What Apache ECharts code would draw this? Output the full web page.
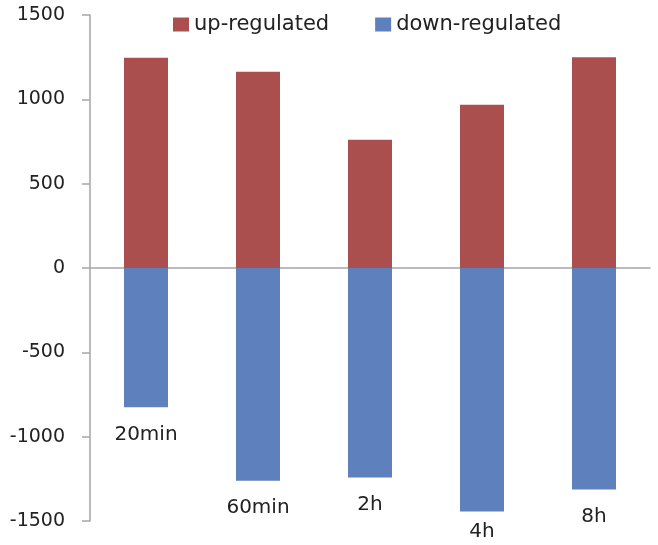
<!DOCTYPE html>
<html>
<head>
<meta charset="utf-8">
<script src="https://cdn.jsdelivr.net/npm/echarts@6/dist/echarts.min.js"></script>
<style>
html,body{margin:0;padding:0;background:#fff;}
#c{width:658px;height:545px;}
</style>
</head>
<body>
<div id="c"></div>
<script>
var categories = ['20min', '60min', '2h', '4h', '8h'];
var upRegulated = [1246, 1163, 760, 968, 1250];
var downRegulated = [-826, -1262, -1242, -1444, -1313];
var yTicks = [-1500, -1000, -500, 0, 500, 1000, 1500];

var FONT = 'DejaVu Sans';
var labelDist = [17, 17, 17, 10, 17];

var chart = echarts.init(document.getElementById('c'));
chart.setOption({
  animation: false,
  backgroundColor: '#ffffff',
  textStyle: { fontFamily: FONT },
  legend: {
    left: 168,
    top: 9,
    itemWidth: 16,
    itemHeight: 14,
    itemGap: 46,
    icon: 'rect',
    textStyle: { fontFamily: FONT, fontSize: 21, color: '#222' },
    data: ['up-regulated', 'down-regulated']
  },
  grid: { left: 90, right: 8, top: 15, bottom: 24, containLabel: false },
  xAxis: {
    type: 'category',
    data: categories,
    axisLine: { onZero: true, lineStyle: { color: '#a6a6a6', width: 1.5 } },
    axisTick: { show: false },
    axisLabel: { show: false },
    splitLine: { show: false }
  },
  yAxis: {
    type: 'value',
    min: yTicks[0],
    max: yTicks[yTicks.length - 1],
    interval: 500,
    axisLine: { show: true, lineStyle: { color: '#a6a6a6', width: 1.5 } },
    axisTick: { show: true, inside: false, length: 8, lineStyle: { color: '#a6a6a6', width: 1.5 } },
    axisLabel: {
      margin: 25, fontFamily: FONT, fontSize: 19, color: '#222',
      formatter: function (v) { return String(v); }
    },
    splitLine: { show: false }
  },
  series: [
    {
      name: 'up-regulated',
      type: 'bar',
      stack: 'reg',
      barWidth: 44,
      itemStyle: { color: '#AA4F4E' },
      data: upRegulated
    },
    {
      name: 'down-regulated',
      type: 'bar',
      stack: 'reg',
      barWidth: 44,
      itemStyle: { color: '#5E80BC' },
      data: downRegulated.map(function (v, i) {
        return { value: v, label: { distance: labelDist[i] } };
      }),
      label: {
        show: true,
        position: 'bottom',
        formatter: '{b}',
        fontFamily: FONT,
        fontSize: 20,
        color: '#222'
      }
    }
  ]
});
</script>
</body>
</html>
